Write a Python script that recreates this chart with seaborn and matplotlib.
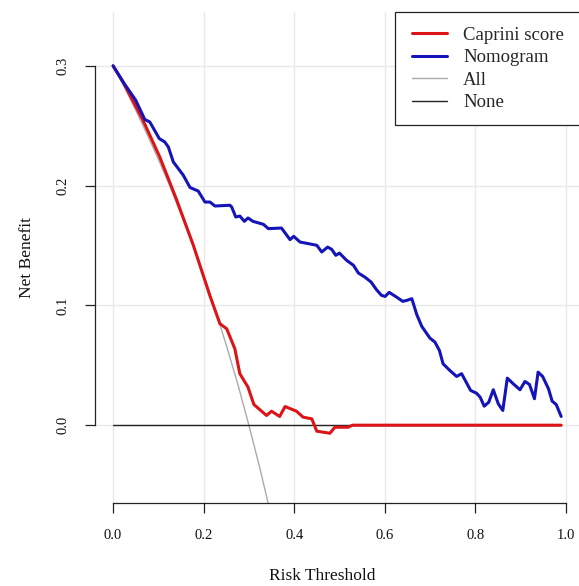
import numpy as np
import pandas as pd
import matplotlib
matplotlib.use("Agg")
import matplotlib.pyplot as plt
from matplotlib.patches import Rectangle
import seaborn as sns

# ---- data ----
caprini_x = [0.0, 0.022, 0.066, 0.103, 0.140, 0.177, 0.214, 0.236, 0.251, 0.269,
             0.280, 0.298, 0.311, 0.339, 0.350, 0.368, 0.380, 0.405, 0.420, 0.439,
             0.450, 0.479, 0.490, 0.519, 0.529, 0.99]
caprini_y = [0.300, 0.2866, 0.2546, 0.224, 0.1885, 0.1505, 0.108, 0.0847, 0.0805, 0.0638,
             0.043, 0.0318, 0.0173, 0.0081, 0.0117, 0.0073, 0.0156, 0.0117, 0.0067, 0.0053,
             -0.005, -0.0067, -0.0017, -0.0017, 0.0, 0.0]

nomo_x = [0.0, 0.022, 0.050, 0.070, 0.081, 0.102, 0.114, 0.122, 0.133, 0.155,
          0.170, 0.188, 0.203, 0.214, 0.225, 0.258, 0.262, 0.271, 0.280, 0.290,
          0.298, 0.309, 0.332, 0.343, 0.372, 0.391, 0.399, 0.413, 0.450, 0.461,
          0.474, 0.483, 0.492, 0.500, 0.516, 0.531, 0.542, 0.556, 0.570, 0.582,
          0.593, 0.601, 0.610, 0.626, 0.640, 0.649, 0.660, 0.671, 0.682, 0.700,
          0.711, 0.721, 0.729, 0.744, 0.759, 0.770, 0.790, 0.803, 0.811, 0.820,
          0.830, 0.840, 0.851, 0.861, 0.871, 0.884, 0.899, 0.910, 0.920, 0.931,
          0.939, 0.949, 0.962, 0.970, 0.979, 0.990]
nomo_y = [0.300, 0.2866, 0.2713, 0.2552, 0.2532, 0.2393, 0.2365, 0.2323, 0.2198, 0.2087,
          0.1984, 0.1955, 0.1863, 0.1863, 0.1830, 0.1836, 0.1822, 0.1738, 0.1746, 0.1702,
          0.1730, 0.1702, 0.1677, 0.1641, 0.1646, 0.1549, 0.1577, 0.1529, 0.1502, 0.1446,
          0.1487, 0.1468, 0.1418, 0.1437, 0.1376, 0.1335, 0.1270, 0.1237, 0.1195, 0.1131,
          0.1084, 0.1075, 0.1109, 0.1070, 0.1034, 0.1042, 0.1056, 0.0923, 0.0825, 0.0727,
          0.0694, 0.0624, 0.0513, 0.0457, 0.0407, 0.0430, 0.0290, 0.0267, 0.0234, 0.0159,
          0.0192, 0.0296, 0.0179, 0.0123, 0.0393, 0.0346, 0.0296, 0.0365, 0.0340, 0.0221,
          0.0443, 0.0407, 0.0304, 0.0201, 0.0173, 0.0073]

all_x = [0.0, 0.025, 0.05, 0.075, 0.10, 0.125, 0.15, 0.175, 0.20, 0.225,
         0.25, 0.275, 0.30, 0.325, 0.35, 0.375]
all_y = [0.300, 0.282, 0.263, 0.243, 0.222, 0.200, 0.176, 0.152, 0.125, 0.097,
         0.067, 0.035, 0.000, -0.037, -0.077, -0.120]

none_x = [0.0, 0.99]
none_y = [0.0, 0.0]

series_names = ["Caprini score", "Nomogram", "All", "None"]
x_ticks = [0.0, 0.2, 0.4, 0.6, 0.8, 1.0]
y_ticks = [0.0, 0.1, 0.2, 0.3]
x_ticklabels = ["0.0", "0.2", "0.4", "0.6", "0.8", "1.0"]
y_ticklabels = ["0.0", "0.1", "0.2", "0.3"]

# ---- styling ----
sns.set_style("white")
plt.rcParams["font.family"] = ["Liberation Serif", "DejaVu Serif"]

W, H = 579, 586
fig = plt.figure(figsize=(W / 100, H / 100), dpi=100)
L, R, T, B = 95, 583.8, 11.7, 503.3
ax = fig.add_axes([L / W, (H - B) / H, (R - L) / W, (B - T) / H])

colors = {"Caprini score": "#dc1418", "Nomogram": "#1414b8",
          "All": "#aaaaaa", "None": "#222222"}
widths = {"Caprini score": 2.2, "Nomogram": 2.2, "All": 1.0, "None": 1.0}
data = {"Caprini score": (caprini_x, caprini_y), "Nomogram": (nomo_x, nomo_y),
        "All": (all_x, all_y), "None": (none_x, none_y)}

draw_order = ["All", "None", "Caprini score", "Nomogram"]
for name in draw_order:
    xs, ys = data[name]
    df = pd.DataFrame({"threshold": xs, "net_benefit": ys})
    sns.lineplot(data=df, x="threshold", y="net_benefit", ax=ax,
                 color=colors[name], linewidth=widths[name],
                 estimator=None, sort=False, label=None, legend=False)

ax.set_xlim(-0.04, 1.04)
ax.set_ylim(-0.0652, 0.3452)
ax.set_xticks(x_ticks)
ax.set_xticklabels(x_ticklabels)
ax.set_yticks(y_ticks)
ax.set_yticklabels(y_ticklabels, rotation=90, va="center")

ax.grid(True, color="#e9e9e9", linewidth=1.0)
ax.set_axisbelow(True)

for s in ["top", "right"]:
    ax.spines[s].set_visible(False)
for s in ["left", "bottom"]:
    ax.spines[s].set_color("#222222")
    ax.spines[s].set_linewidth(0.9)
ax.spines["left"].set_bounds(0.0, 0.3)
ax.spines["bottom"].set_bounds(0.0, 1.0)

ax.tick_params(axis="both", which="major", direction="out", length=7.5, width=0.9,
               color="#222222", labelsize=10.5, labelcolor="#111111", pad=11,
               bottom=True, left=True, top=False, right=False)

ax.set_xlabel("Risk Threshold", fontsize=12.5, color="#111111")
ax.set_ylabel("Net Benefit", fontsize=12.5, color="#111111")
ax.xaxis.set_label_coords((322.5 - L) / (R - L), (B - 568) / (B - T))
ax.yaxis.set_label_coords((35 - L) / (R - L), 0.5)

# legend box (extends past right edge as in the reference)
rect = Rectangle((395 / W, (H - 125) / H), 260 / W, (125 - 12.3) / H,
                 transform=fig.transFigure, facecolor="white",
                 edgecolor="#222222", linewidth=0.9, zorder=3, clip_on=False)
fig.add_artist(rect)

handles = [plt.Line2D([], [], color=colors[n], linewidth=widths[n]) for n in series_names]
leg = fig.legend(handles, series_names, loc="upper left",
                 bbox_to_anchor=(412 / W, (H - 26.5) / H), bbox_transform=fig.transFigure,
                 frameon=False, fontsize=13.5, borderpad=0, borderaxespad=0,
                 handlelength=1.87, handletextpad=0.85, labelspacing=0.29)
leg.set_zorder(5)

fig.savefig("out.png", dpi=100)
